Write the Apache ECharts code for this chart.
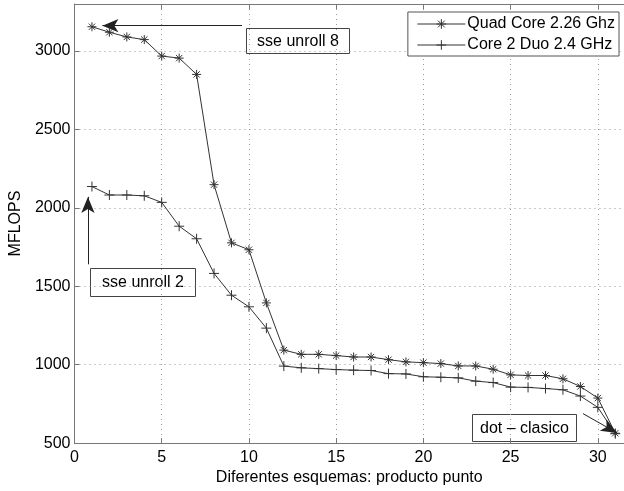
<!DOCTYPE html>
<html><head><meta charset="utf-8">
<script src="https://cdn.jsdelivr.net/npm/echarts@6/dist/echarts.min.js"></script>
<style>html,body{margin:0;padding:0;background:#fff}#c{width:624px;height:491px}</style>
</head><body><div id="c"></div>
<script>
const xs = [1,2,3,4,5,6,7,8,9,10,11,12,13,14,15,16,17,18,19,20,21,22,23,24,25,26,27,28,29,30,31];
const quad = [3155,3120,3090,3073,2968,2955,2851,2148,1777,1733,1394,1093,1066,1066,1058,1049,1049,1032,1018,1013,1007,992,992,971,935,931,931,910,861,787,563];
const duo  = [2136,2082,2082,2077,2035,1883,1803,1582,1443,1369,1233,991,980,975,969,965,963,943,941,923,920,916,895,886,857,855,848,840,800,728,560];
const xTicks = [0,5,10,15,20,25,30];
const yTicks = [500,1000,1500,2000,2500,3000];
const seriesNames = ['Quad Core 2.26 Ghz','Core 2 Duo 2.4 GHz'];
const notes = ['sse unroll 8','sse unroll 2','dot \u2013 clasico'];

const FONT = 'Liberation Sans';
const FS = 16;
const star = 'path://M5,0L5,10M0,5L10,5M1.5,1.5L8.5,8.5M8.5,1.5L1.5,8.5';
const plus = 'path://M5,0L5,10M0,5L10,5';
const pair = (a) => xs.map((x,i)=>[x,a[i]]);
const lineCol = '#333';

const chart = echarts.init(document.getElementById('c'));
const noteBox = (txt,l,t,w,h) => ({type:'group',left:l,top:t,children:[
  {type:'rect',shape:{x:0,y:0,width:w,height:h},style:{fill:'#fff',stroke:'#444',lineWidth:1}},
  {type:'text',x:w/2,y:h/2+0.5,style:{text:txt,font:FS+'px "Liberation Sans"',fill:'#000',align:'center',verticalAlign:'middle'}}
]});
chart.setOption({
  animation:false,
  textStyle:{fontFamily:FONT},
  grid:{left:70.5,right:0,top:4,bottom:44.5,containLabel:false},
  xAxis:[{
    type:'value',min:0,max:31.5,interval:5,
    name:'Diferentes esquemas: producto punto',nameLocation:'middle',nameGap:26,
    nameTextStyle:{fontSize:FS,color:'#000',fontFamily:FONT},
    axisLine:{lineStyle:{color:'#777',width:1}},
    axisTick:{inside:true,length:5,lineStyle:{color:'#777'}},
    axisLabel:{fontSize:FS,color:'#000',margin:6,fontFamily:FONT,showMaxLabel:false,
      formatter:v=>xTicks.includes(v)?String(v):''},
    splitLine:{show:true,lineStyle:{color:'#999',type:[1,4],width:1}}
  },{
    type:'value',min:0,max:31.5,interval:5,position:'top',
    axisLine:{show:true,lineStyle:{color:'#777',width:1}},
    axisTick:{inside:true,length:5,lineStyle:{color:'#777'}},
    axisLabel:{show:false},splitLine:{show:false}
  }],
  yAxis:[{
    type:'value',min:500,max:3300,interval:500,
    name:'MFLOPS',nameLocation:'middle',nameGap:50,
    nameTextStyle:{fontSize:FS,color:'#000',fontFamily:FONT},
    axisLine:{show:true,lineStyle:{color:'#777',width:1}},
    axisTick:{inside:true,length:5,lineStyle:{color:'#777'}},
    axisLabel:{fontSize:FS,color:'#000',margin:4,fontFamily:FONT,showMaxLabel:false,
      formatter:v=>yTicks.includes(v)?String(v):''},
    splitLine:{show:true,lineStyle:{color:'#999',type:[1,4],width:1}}
  }],
  legend:{
    orient:'vertical',right:5,top:12,
    backgroundColor:'#fff',borderColor:'#555',borderWidth:1,
    padding:[4,4,3,9],itemGap:5,itemWidth:48,itemHeight:12,
    lineStyle:{width:1,color:lineCol},
    itemStyle:{color:'none',borderColor:lineCol,borderWidth:1},
    textStyle:{fontSize:FS,color:'#000',fontFamily:FONT,padding:[0,0,0,-3]},
    data:seriesNames
  },
  series:[{
    name:seriesNames[0],type:'line',xAxisIndex:0,data:pair(quad),
    symbol:star,symbolSize:9,showAllSymbol:true,
    lineStyle:{color:lineCol,width:1},
    itemStyle:{color:'none',borderColor:lineCol,borderWidth:1}
  },{
    name:seriesNames[1],type:'line',xAxisIndex:0,data:pair(duo),
    symbol:plus,symbolSize:10,showAllSymbol:true,
    lineStyle:{color:lineCol,width:1},
    itemStyle:{color:'none',borderColor:lineCol,borderWidth:1}
  },{
    name:'arrows',type:'line',data:[],
    itemStyle:{color:'#111'},
    markLine:{silent:true,symbol:['none','arrow'],symbolSize:[10,16],
      label:{show:false},
      itemStyle:{color:'#111'},
      lineStyle:{color:'#222',width:1,type:'solid'},
      emphasis:{disabled:true},
      data:[
        [{coord:[9.6,3162]},{coord:[1.6,3162]}],
        [{coord:[0.77,1640]},{coord:[0.77,2070]}],
        [{coord:[29.15,688]},{coord:[31.1,565]}]
      ]}
  }],
  graphic:[
    noteBox(notes[0],246,28,103,25),
    noteBox(notes[1],90,268,105,28),
    noteBox(notes[2],472,414,104,27)
  ]
});
</script></body></html>
